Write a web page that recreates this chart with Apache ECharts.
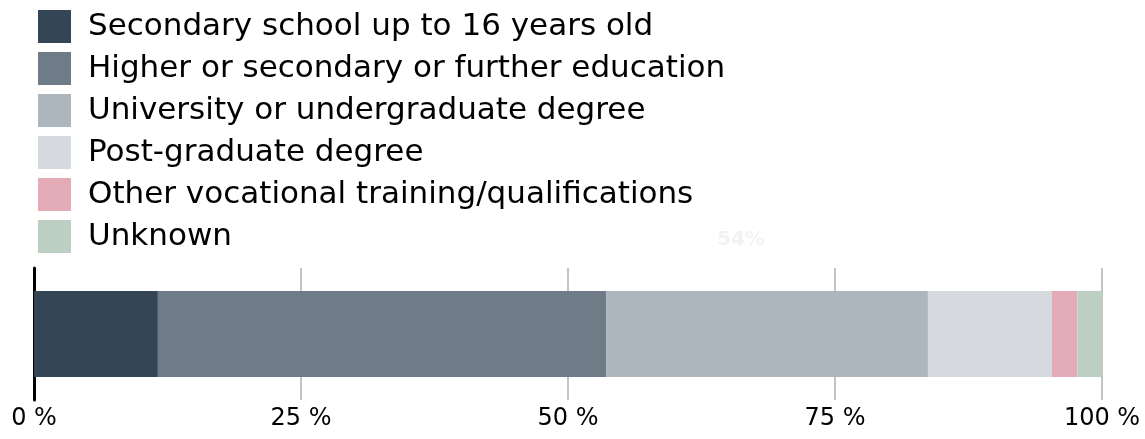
<!DOCTYPE html>
<html>
<head>
<meta charset="utf-8">
<script src="https://cdn.jsdelivr.net/npm/echarts@6/dist/echarts.min.js"></script>
<style>
  html, body { margin: 0; padding: 0; background: #ffffff; }
  #chart { width: 1145px; height: 439px; }
</style>
</head>
<body>
<div id="chart"></div>
<script>
// Highest level of education, shares of respondents (%)
const categories = ['All'];
const seriesNames = [
  'Secondary school up to 16 years old',
  'Higher or secondary or further education',
  'University or undergraduate degree',
  'Post-graduate degree',
  'Other vocational training/qualifications',
  'Unknown'
];
const secondaryValues = [11.6];
const higherValues = [42.0];
const universityValues = [30.1];
const postgradValues = [11.6];
const vocationalValues = [2.4];
const unknownValues = [2.3];
const seriesColors = ['#344656', '#6f7c88', '#adb5bd', '#d6dade', '#e3abb5', '#bdcfc2'];
const tickValues = [0, 25, 50, 75, 100];

const valueSets = [secondaryValues, higherValues, universityValues, postgradValues, vocationalValues, unknownValues];
const font = '"DejaVu Sans", Verdana, sans-serif';

const chart = echarts.init(document.getElementById('chart'));

const series = seriesNames.map((name, i) => ({
  name: name,
  type: 'bar',
  stack: 'total',
  barWidth: 86,
  data: valueSets[i],
  itemStyle: { color: seriesColors[i] },
  emphasis: { disabled: true }
}));

const upperTwo = secondaryValues[0] + higherValues[0];

chart.setOption({
  animation: false,
  textStyle: { fontFamily: font },
  legend: {
    orient: 'vertical',
    left: 33,
    top: 5,
    itemWidth: 33,
    itemHeight: 33,
    itemGap: 9,
    icon: 'rect',
    selectedMode: false,
    data: seriesNames,
    textStyle: { fontSize: 31, color: '#000000', fontFamily: font, padding: [0, 0, 0, 12] }
  },
  grid: { left: 34, right: 43, top: 268, bottom: 39 },
  xAxis: {
    type: 'value',
    min: 0,
    max: 100,
    interval: 25,
    axisLine: { show: false },
    axisTick: { show: false },
    splitLine: { show: true, lineStyle: { color: '#c4c4c4', width: 2 } },
    axisLabel: {
      fontSize: 24,
      color: '#000000',
      margin: 7,
      fontFamily: font,
      formatter: v => tickValues.includes(v) ? v + ' %' : ''
    }
  },
  yAxis: {
    type: 'category',
    data: categories,
    axisLine: { show: true, lineStyle: { color: '#000000', width: 3 } },
    axisTick: { show: false },
    axisLabel: { show: false }
  },
  graphic: [{
    type: 'text',
    left: 717,
    top: 230,
    style: {
      text: Math.round(upperTwo) + '%',
      fontSize: 20,
      fontWeight: 'bold',
      fill: '#f2f2f2',
      fontFamily: font
    }
  }],
  series: series
});
</script>
</body>
</html>
